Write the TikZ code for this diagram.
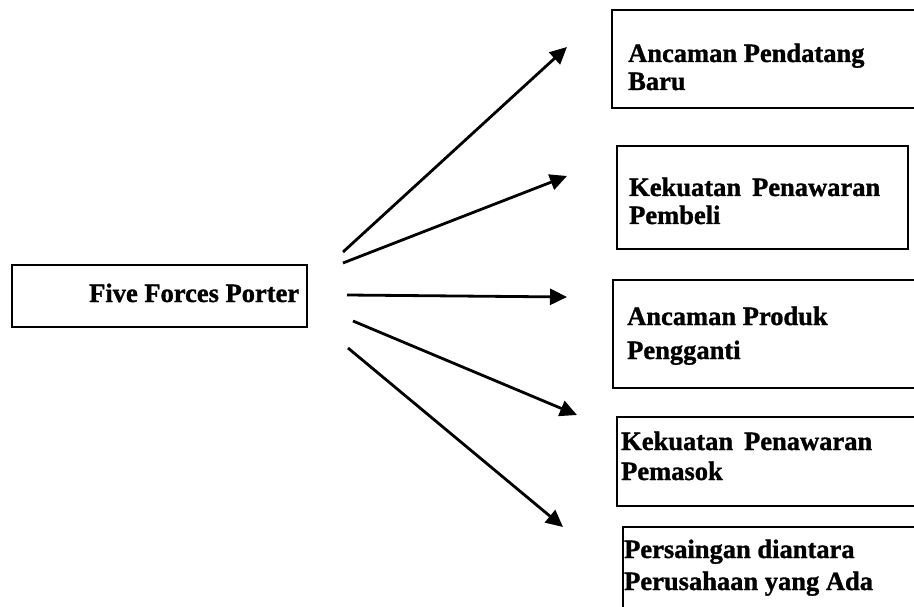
\documentclass[tikz,border=0pt]{standalone}
\usepackage{fontspec}
\setmainfont{Liberation Serif}[BoldFeatures={FakeBold=1.2}]
\usetikzlibrary{arrows.meta}
\begin{document}
\begin{tikzpicture}[x=1pt,y=-1pt,
  box/.style={draw=black,line width=1.8pt},
  lbl/.style={anchor=base west,inner sep=0pt,font=\fontsize{26.5}{30}\selectfont\bfseries},
  arr/.style={line width=2.8pt,-{Triangle[length=17pt,width=16pt]}}]
\useasboundingbox (0,0) rectangle (914,607);
\clip (0,0) rectangle (914,607);
% left box
\draw[box] (12,265) rectangle (307,327);
\node[lbl] (tfive) at (89,302) {Five Forces Porter};
% right boxes
\draw[box] (612,10) rectangle (930,108);
\node[lbl] (t1a) at (628,62) {Ancaman Pendatang};
\node[lbl] (t1b) at (628,90) {Baru};
\draw[box] (617,146) rectangle (908,249);
\node[lbl] (t2a) at (629,196) {Kekuatan\, Penawaran};
\node[lbl] (t2b) at (629,224) {Pembeli};
\draw[box] (613,280) rectangle (930,388);
\node[lbl] (t3a) at (627,325) {Ancaman Produk};
\node[lbl] (t3b) at (627,359) {Pengganti};
\draw[box] (617,417) rectangle (930,506);
\node[lbl] (t4a) at (621,450) {Kekuatan\, Penawaran};
\node[lbl] (t4b) at (621,480) {Pemasok};
\draw[box] (623,527) rectangle (930,640);
\node[lbl] (t5a) at (624,558) {Persaingan diantara};
\node[lbl] (t5b) at (624,590) {Perusahaan yang Ada};
% arrows
\coordinate (s1) at (343,252); \coordinate (e1) at (567,47);
\coordinate (s2) at (343,263); \coordinate (e2) at (567,176);
\coordinate (s3) at (347,295); \coordinate (e3) at (567,297);
\coordinate (s4) at (353,321); \coordinate (e4) at (577,415);
\coordinate (s5) at (348,348); \coordinate (e5) at (563,527);
\draw[arr] (s1) -- (e1);
\draw[arr] (s2) -- (e2);
\draw[arr] (s3) -- (e3);
\draw[arr] (s4) -- (e4);
\draw[arr] (s5) -- (e5);
\end{tikzpicture}
\end{document}
